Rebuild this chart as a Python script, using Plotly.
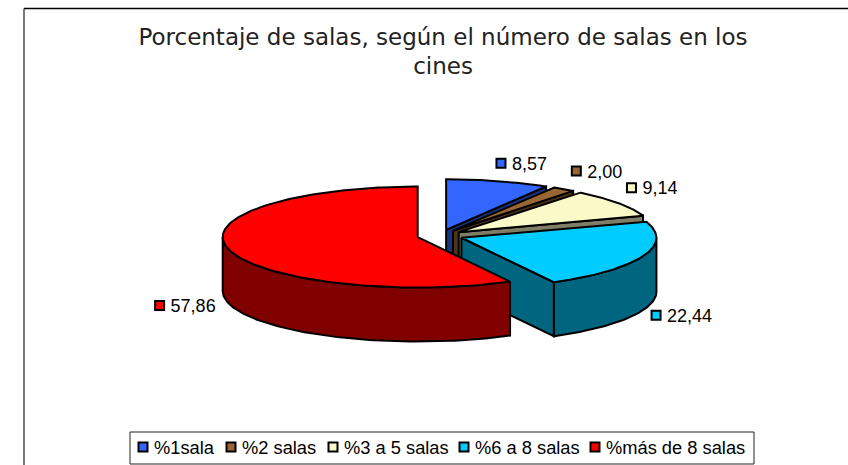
import numpy as np
import plotly.graph_objects as go

# ---- data ----
CATEGORIES = ["%1sala", "%2 salas", "%3 a 5 salas", "%6 a 8 salas", "%más de 8 salas"]
VALUES = [8.57, 2.00, 9.14, 22.44, 57.86]
VALUE_LABELS = ["8,57", "2,00", "9,14", "22,44", "57,86"]
TITLE = "Porcentaje de salas, según el número de salas en los<br>cines"

# ---- style ----
TOP_COLORS = ["#3366ff", "#996633", "#fafac8", "#00ccff", "#ff0000"]
SIDE_COLORS = ["#1a3380", "#4d331a", "#7f7d63", "#006680", "#800000"]
LABEL_OFFSETS = [(3, -18), (13, -18), (14, -15), (13, 59), (-69, 56)]
LEGEND_KEY_X = [143, 231, 333, 464, 595]
W, H = 848, 465
CX, CY = 440, 235.6   # pie centre
A, B = 195, 50.5      # ellipse radii
DEPTH = 54
EXPLODE = 23
LEGEND_Y = 448
TEXT_GAP = 11
TEXT_DROP = 2
FONT = "Liberation Sans"

fracs = np.array(VALUES) / sum(VALUES)
edges = np.concatenate([[0], np.cumsum(fracs)]) * 360

fig = go.Figure()


def poly(xs, ys, fill, name):
    fig.add_trace(go.Scatter(
        x=list(xs) + [xs[0]], y=list(ys) + [ys[0]], mode="lines", fill="toself",
        fillcolor=fill, line=dict(color="black", width=2), hoverinfo="skip",
        showlegend=False, name=name))


def keyed_text(xs, ys, texts, size):
    fig.add_trace(go.Scatter(
        x=xs, y=ys, mode="markers",
        marker=dict(symbol="square", size=9, color=TOP_COLORS, line=dict(color="black", width=2)),
        hoverinfo="skip", showlegend=False, cliponaxis=False))
    fig.add_trace(go.Scatter(
        x=[v + TEXT_GAP for v in xs], y=[v + TEXT_DROP for v in ys], mode="text", text=texts,
        textposition="middle right", textfont=dict(family=FONT, size=size, color="black"),
        hoverinfo="skip", showlegend=False, cliponaxis=False))


key_x, key_y = [], []
for i, name in enumerate(CATEGORIES):
    start, end = edges[i], edges[i + 1]
    mid = np.radians((start + end) / 2)
    ox = CX + EXPLODE * np.sin(mid)
    oy = CY - EXPLODE * np.cos(mid) * B / A

    def rim(deg):
        t = np.radians(deg)
        return ox + A * np.sin(t), oy - B * np.cos(t)

    # outer wall (only the front half of the rim is visible)
    lo, hi = max(start, 90), min(end, 270)
    if lo < hi:
        rx, ry = rim(np.linspace(lo, hi, 90))
        poly(np.concatenate([rx, rx[::-1]]), np.concatenate([ry, ry[::-1] + DEPTH]),
             SIDE_COLORS[i], name)
    # radial cut face at the end of the slice (faces the viewer below 180 deg)
    if end < 180:
        ex, ey = rim(end)
        poly([ox, ex, ex, ox], [oy, ey, ey + DEPTH, oy + DEPTH], SIDE_COLORS[i], name)
    # top face
    rx, ry = rim(np.linspace(start, end, 180))
    poly(np.concatenate([[ox], rx]), np.concatenate([[oy], ry]), TOP_COLORS[i], name)
    # key position for the value label, anchored to the rim at mid angle
    mx, my = rim((start + end) / 2)
    key_x.append(mx + LABEL_OFFSETS[i][0])
    key_y.append(my + LABEL_OFFSETS[i][1])

keyed_text(key_x, key_y, VALUE_LABELS, 18)
keyed_text(LEGEND_KEY_X, [LEGEND_Y - 1] * 5, CATEGORIES, 18.3)

fig.update_layout(
    width=W, height=H, margin=dict(l=0, r=0, t=0, b=0, autoexpand=False),
    paper_bgcolor="white", plot_bgcolor="white", autosize=False,
    title=dict(text=TITLE, x=443 / W, xanchor="center", y=1 - 44.5 / H, yanchor="top",
               font=dict(family="DejaVu Sans", size=23, color="#222222")),
    xaxis=dict(range=[0, W], visible=False, fixedrange=True),
    yaxis=dict(range=[H, 0], visible=False, fixedrange=True),
    shapes=[
        dict(type="line", x0=24, x1=W, y0=8.5, y1=8.5, line=dict(color="black", width=1.5), layer="below"),
        dict(type="line", x0=24, x1=24, y0=8.5, y1=H, line=dict(color="#222222", width=1.2), layer="below"),
        dict(type="rect", x0=130, x1=754, y0=432, y1=464, line=dict(color="#222222", width=1), layer="below"),
    ],
)
fig.write_html("out.html", config={"displayModeBar": False},
               post_script="document.body.style.margin='0';document.body.style.overflow='hidden';")
